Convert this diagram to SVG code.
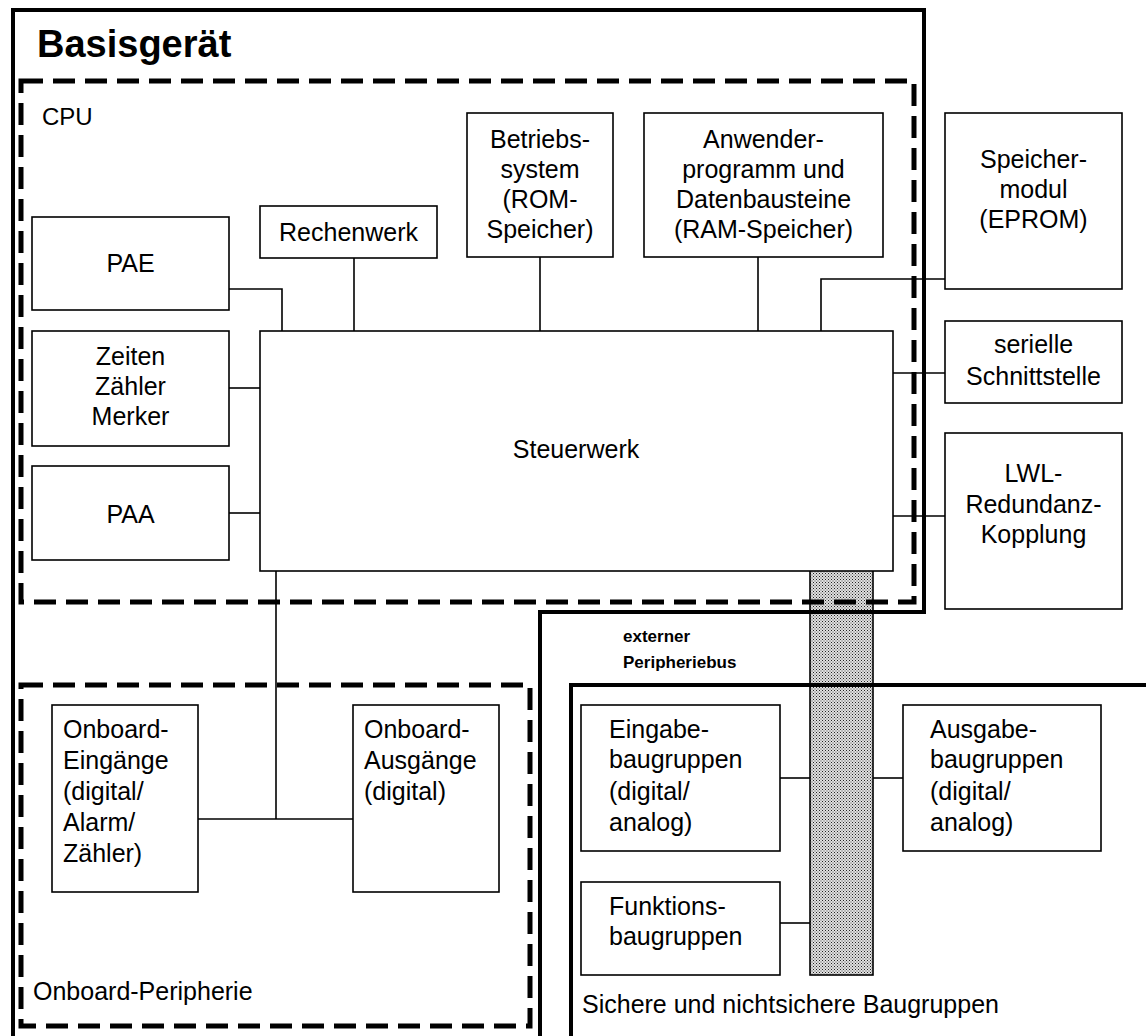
<svg xmlns="http://www.w3.org/2000/svg" width="1146" height="1036" viewBox="0 0 1146 1036">
<style>
.box{fill:#fff;stroke:#000;stroke-width:1.6}
.t{font-family:"Liberation Sans",Arial,Helvetica,sans-serif;font-size:25px;fill:#000}
.c{text-anchor:middle}
.b{font-weight:bold}
.dash{fill:none;stroke:#000;stroke-width:5;stroke-dasharray:22 10}
.frame{fill:none;stroke:#000;stroke-width:4}
.conn line,.conn polyline{fill:none;stroke:#000;stroke-width:1.6}
</style>
<defs>
<pattern id="dots" width="3" height="3" patternUnits="userSpaceOnUse">
<rect width="3" height="3" fill="#e0e0e0"/>
<rect x="0" y="0" width="1" height="1" fill="#222"/>
<rect x="1.5" y="1.5" width="1" height="1" fill="#444"/>
</pattern>
</defs>
<rect width="1146" height="1036" fill="#fff"/>
<g id="bus">
<rect x="810" y="570" width="63" height="405" fill="url(#dots)" stroke="#000" stroke-width="1.6"/>
</g>
<g id="frames">
<path class="frame" d="M13,1036 V10 H924 V612 H540 V1036"/>
<path class="frame" d="M571,1036 V685 H1146"/>
<rect class="dash" x="21" y="81" width="893" height="521"/>
<rect class="dash" x="21" y="685" width="509" height="341"/>
<text class="t b" x="37" y="57" style="font-size:38px">Basisgerät</text>
<text class="t" x="42" y="125" style="font-size:24px">CPU</text>
<text class="t" x="33" y="1000">Onboard-Peripherie</text>
<text class="t" x="582" y="1013">Sichere und nichtsichere Baugruppen</text>
<text class="t b" x="623" y="642" style="font-size:17px">externer</text>
<text class="t b" x="623" y="668" style="font-size:17px">Peripheriebus</text>
</g>
<g class="conn" id="connectors">
<polyline points="229,289 282,289 282,331"/>
<line x1="354" y1="258" x2="354" y2="331"/>
<line x1="540" y1="257" x2="540" y2="331"/>
<line x1="758" y1="257" x2="758" y2="331"/>
<polyline points="821,331 821,279 945,279"/>
<line x1="893" y1="373" x2="945" y2="373"/>
<line x1="890" y1="516" x2="945" y2="516"/>
<line x1="229" y1="388" x2="260" y2="388"/>
<line x1="229" y1="513" x2="260" y2="513"/>
<line x1="276" y1="571" x2="276" y2="819"/>
<line x1="198" y1="819" x2="353" y2="819"/>
<line x1="780" y1="778" x2="810" y2="778"/>
<line x1="873" y1="778" x2="903" y2="778"/>
<line x1="780" y1="923" x2="810" y2="923"/>
</g>
<g id="pae"><rect class="box" x="32" y="217" width="197" height="93"/><text class="t c" x="130.5" y="272">PAE</text></g>
<g id="zeiten"><rect class="box" x="32" y="331" width="197" height="115"/><text class="t c" x="130.5" y="365">Zeiten</text><text class="t c" x="130.5" y="395">Zähler</text><text class="t c" x="130.5" y="425">Merker</text></g>
<g id="paa"><rect class="box" x="32" y="466" width="197" height="94"/><text class="t c" x="130.5" y="523">PAA</text></g>
<g id="rechenwerk"><rect class="box" x="260" y="206" width="177" height="52"/><text class="t c" x="348.5" y="241">Rechenwerk</text></g>
<g id="betriebssystem"><rect class="box" x="467" y="113" width="146" height="144"/><text class="t c" x="540" y="148">Betriebs-</text><text class="t c" x="540" y="178">system</text><text class="t c" x="540" y="208">(ROM-</text><text class="t c" x="540" y="238">Speicher)</text></g>
<g id="anwender"><rect class="box" x="644" y="113" width="239" height="144"/><text class="t c" x="763.5" y="148">Anwender-</text><text class="t c" x="763.5" y="178">programm und</text><text class="t c" x="763.5" y="208">Datenbausteine</text><text class="t c" x="763.5" y="238">(RAM-Speicher)</text></g>
<g id="speichermodul"><rect class="box" x="945" y="113" width="177" height="176"/><text class="t c" x="1033.5" y="168">Speicher-</text><text class="t c" x="1033.5" y="198">modul</text><text class="t c" x="1033.5" y="228">(EPROM)</text></g>
<g id="steuerwerk"><rect class="box" x="260" y="331" width="633" height="240"/><text class="t c" x="576" y="458">Steuerwerk</text></g>
<g id="seriell"><rect class="box" x="945" y="321" width="177" height="82"/><text class="t c" x="1033.5" y="353">serielle</text><text class="t c" x="1033.5" y="385">Schnittstelle</text></g>
<g id="lwl"><rect class="box" x="945" y="433" width="177" height="176"/><text class="t c" x="1033.5" y="482">LWL-</text><text class="t c" x="1033.5" y="513">Redundanz-</text><text class="t c" x="1033.5" y="543">Kopplung</text></g>
<g id="onboard-eingaenge"><rect class="box" x="52" y="705" width="146" height="187"/><text class="t" x="63" y="738">Onboard-</text><text class="t" x="63" y="769">Eingänge</text><text class="t" x="63" y="800">(digital/</text><text class="t" x="63" y="831">Alarm/</text><text class="t" x="63" y="862">Zähler)</text></g>
<g id="onboard-ausgaenge"><rect class="box" x="353" y="705" width="146" height="187"/><text class="t" x="364" y="738">Onboard-</text><text class="t" x="364" y="769">Ausgänge</text><text class="t" x="364" y="800">(digital)</text></g>
<g id="eingabe"><rect class="box" x="581" y="705" width="199" height="146"/><text class="t" x="609" y="738">Eingabe-</text><text class="t" x="609" y="768">baugruppen</text><text class="t" x="609" y="800">(digital/</text><text class="t" x="609" y="831">analog)</text></g>
<g id="ausgabe"><rect class="box" x="903" y="705" width="198" height="146"/><text class="t" x="930" y="738">Ausgabe-</text><text class="t" x="930" y="768">baugruppen</text><text class="t" x="930" y="800">(digital/</text><text class="t" x="930" y="831">analog)</text></g>
<g id="funktion"><rect class="box" x="581" y="882" width="199" height="93"/><text class="t" x="609" y="915">Funktions-</text><text class="t" x="609" y="945">baugruppen</text></g>
</svg>
